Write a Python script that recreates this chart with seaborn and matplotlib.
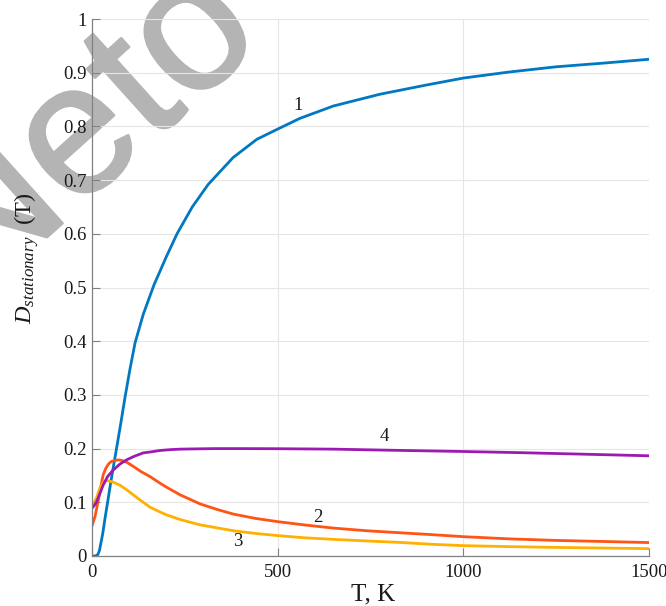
import numpy as np
import pandas as pd
import matplotlib
matplotlib.use("Agg")
import matplotlib.pyplot as plt
import matplotlib.patheffects as pe
import seaborn as sns

# ---------------- data ----------------
T1 = [0, 10, 16, 20, 29, 35, 42, 50, 58, 66, 78, 89, 102, 116, 138, 167, 200, 229,
      270, 313, 380, 444, 500, 560, 650, 776, 900, 1000, 1120, 1250, 1380, 1500]
D1 = [0.0, 0.0, 0.003, 0.01, 0.042, 0.07, 0.1, 0.135, 0.168, 0.2, 0.249, 0.296, 0.347,
      0.397, 0.45, 0.505, 0.557, 0.6, 0.65, 0.692, 0.742, 0.776, 0.795, 0.815, 0.838,
      0.860, 0.877, 0.890, 0.901, 0.911, 0.918, 0.925]

T2 = [0, 8, 17, 24, 30, 37, 44, 52, 62, 72, 80, 95, 111, 130, 156, 180, 201, 237, 291,
      340, 381, 440, 500, 570, 650, 740, 824, 910, 1000, 1120, 1250, 1380, 1500]
D2 = [0.056, 0.073, 0.104, 0.13, 0.151, 0.163, 0.171, 0.176, 0.178, 0.179, 0.178, 0.174,
      0.167, 0.158, 0.148, 0.137, 0.128, 0.114, 0.097, 0.086, 0.078, 0.070, 0.064, 0.058,
      0.052, 0.047, 0.0435, 0.040, 0.036, 0.032, 0.029, 0.027, 0.025]

T3 = [0, 5, 12, 21, 30, 39, 50, 62, 75, 92, 111, 130, 156, 180, 201, 237, 291, 340, 381,
      440, 500, 570, 650, 740, 824, 910, 1000, 1120, 1250, 1380, 1500]
D3 = [0.098, 0.099, 0.108, 0.126, 0.137, 0.1405, 0.139, 0.136, 0.132, 0.124, 0.114, 0.104,
      0.091, 0.083, 0.0765, 0.068, 0.058, 0.052, 0.047, 0.042, 0.038, 0.034, 0.031, 0.028,
      0.0255, 0.022, 0.0193, 0.0175, 0.016, 0.0148, 0.0137]

T4 = [0, 6, 12.5, 20, 30, 42, 57, 75, 93, 115, 138, 160, 183, 210, 237, 280, 330, 400,
      500, 650, 800, 1000, 1150, 1300, 1500]
D4 = [0.089, 0.094, 0.101, 0.114, 0.132, 0.148, 0.16, 0.171, 0.179, 0.186, 0.192, 0.194,
      0.1965, 0.198, 0.199, 0.1995, 0.2, 0.2, 0.1998, 0.199, 0.197, 0.1946, 0.1925, 0.190,
      0.1866]

curve_names = ["1", "2", "3", "4"]
curve_colors = ["#0078C2", "#FF5414", "#FFB000", "#9C1AB1"]

# label annotations (text, T, D)
label_texts = ["1", "2", "3", "4"]
label_T = [554, 609, 392, 787]
label_D = [0.838, 0.072, 0.027, 0.2226]

x_ticks = [0, 500, 1000, 1500]
x_ticklabels = ["0", "500", "1000", "1500"]
y_ticks = [0, 0.1, 0.2, 0.3, 0.4, 0.5, 0.6, 0.7, 0.8, 0.9, 1.0]
y_ticklabels = ["0", "0.1", "0.2", "0.3", "0.4", "0.5", "0.6", "0.7", "0.8", "0.9", "1"]

# ---------------- style ----------------
sns.set_theme(style="whitegrid")
plt.rcParams["font.family"] = ["Liberation Serif", "DejaVu Serif"]
plt.rcParams["mathtext.fontset"] = "custom"
plt.rcParams["mathtext.rm"] = "Liberation Serif"
plt.rcParams["mathtext.it"] = "Liberation Serif:italic"

frames = []
for name, t, d in zip(curve_names, [T1, T2, T3, T4], [D1, D2, D3, D4]):
    frames.append(pd.DataFrame({"T": t, "D": d, "curve": name}))
df = pd.concat(frames, ignore_index=True)

fig = plt.figure(figsize=(6.66, 6.06), dpi=100)
fig.patch.set_facecolor("white")

# watermark (light grey, behind the chart)
wm_color = "#b4b4b4"
fig.text(-26 / 666, 1 - 303 / 606, "Neto", rotation=42, rotation_mode="anchor",
         ha="left", va="baseline", fontsize=134, color=wm_color,
         family="Liberation Sans", zorder=-1,
         path_effects=[pe.withStroke(linewidth=1.8, foreground=wm_color)])

ax = fig.add_axes([92 / 666, 50 / 606, 557 / 666, 537 / 606])
ax.patch.set_alpha(0)

sns.lineplot(data=df, x="T", y="D", hue="curve", palette=dict(zip(curve_names, curve_colors)),
             linewidth=2.0, legend=False, ax=ax, estimator=None, sort=False)

ax.set_xlim(0, 1500)
ax.set_ylim(0, 1)
ax.set_xticks(x_ticks)
ax.set_xticklabels(x_ticklabels)
ax.set_yticks(y_ticks)
ax.set_yticklabels(y_ticklabels)
ax.set_xlabel("")
ax.set_ylabel("")

ax.grid(True, color="#e6e6e6", linewidth=0.8)
for s in ["top", "right"]:
    ax.spines[s].set_visible(False)
for s in ["left", "bottom"]:
    ax.spines[s].set_color("#808080")
    ax.spines[s].set_linewidth(0.9)

ax.tick_params(axis="both", direction="in", length=6, width=0.8, color="#808080",
               labelsize=13.5, labelcolor="#1a1a1a")
ax.tick_params(axis="x", pad=6)
ax.tick_params(axis="y", pad=4)
ax.tick_params(left=True, bottom=True)

for txt, tx, ty in zip(label_texts, label_T, label_D):
    ax.text(tx, ty, txt, ha="center", va="center", fontsize=13.5, color="#1a1a1a")

fig.text(373 / 666, 1 - 600 / 606, "T, K", ha="center", va="baseline", fontsize=18,
         color="#1a1a1a")
fig.text(27 / 666, 1 - 258 / 606, r"$D_{stationary}$  (T)", rotation=90, ha="center",
         va="center", fontsize=17.5, color="#1a1a1a")

fig.savefig("out.png", dpi=100)
